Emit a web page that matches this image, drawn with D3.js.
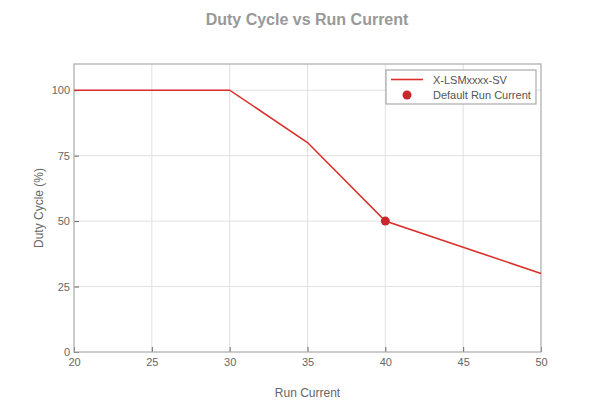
<!DOCTYPE html>
<html>
<head>
<meta charset="utf-8">
<script src="https://cdn.jsdelivr.net/npm/d3@7"></script>
<style>
  body { margin: 0; background: #fff; }
  text { font-family: "Liberation Sans", Arial, sans-serif; }
</style>
</head>
<body>
<div id="chart"></div>
<script>
const runCurrent = [20, 30, 35, 40, 45, 50];
const dutyCycle = [100, 100, 80, 50, 40, 30];
const defaultCurrent = [40];
const defaultDuty = [50];
const xTicks = [20, 25, 30, 35, 40, 45, 50];
const yTicks = [0, 25, 50, 75, 100];

const width = 600, height = 416;
const margin = {top: 64, right: 59, bottom: 64, left: 74};
const innerW = width - margin.left - margin.right;
const innerH = height - margin.top - margin.bottom;

const svg = d3.select("#chart").append("svg")
    .attr("width", width)
    .attr("height", height);

// title
svg.append("text")
    .attr("x", 307).attr("y", 25)
    .attr("text-anchor", "middle")
    .attr("font-size", 16).attr("font-weight", "bold")
    .attr("fill", "#999")
    .text("Duty Cycle vs Run Current");

const g = svg.append("g")
    .attr("transform", `translate(${margin.left},${margin.top})`);

const x = d3.scaleLinear().domain([20, 50]).range([0, innerW]);
const y = d3.scaleLinear().domain([0, 110]).range([innerH, 0]);

// grid
g.selectAll(".vgrid").data(xTicks.slice(1, -1)).enter().append("line")
    .attr("x1", d => x(d)).attr("x2", d => x(d))
    .attr("y1", 0).attr("y2", innerH)
    .attr("stroke", "#e0e0e0").attr("stroke-width", 1);
g.selectAll(".hgrid").data(yTicks.slice(1)).enter().append("line")
    .attr("y1", d => y(d)).attr("y2", d => y(d))
    .attr("x1", 0).attr("x2", innerW)
    .attr("stroke", "#e0e0e0").attr("stroke-width", 1);

// axes with ticks pointing inward
const xAxis = g.append("g")
    .attr("transform", `translate(0,${innerH})`)
    .call(d3.axisBottom(x).tickValues(xTicks).tickSize(-5).tickPadding(6));
const yAxis = g.append("g")
    .call(d3.axisLeft(y).tickValues(yTicks).tickSize(-5).tickPadding(4));
[xAxis, yAxis].forEach(a => {
    a.select(".domain").remove();
    a.selectAll("line").attr("stroke", "#666");
    a.selectAll("text").attr("fill", "#666").attr("font-size", 11)
        .attr("font-family", "Liberation Sans, Arial, sans-serif");
});

// frame
g.append("rect")
    .attr("width", innerW).attr("height", innerH)
    .attr("fill", "none").attr("stroke", "#aaa").attr("stroke-width", 1.2);

// line
const pts = runCurrent.map((d, i) => [d, dutyCycle[i]]);
g.append("path")
    .datum(pts)
    .attr("fill", "none")
    .attr("stroke", "#d9302c")
    .attr("stroke-width", 1.6)
    .attr("d", d3.line().x(d => x(d[0])).y(d => y(d[1])));

// default point
g.selectAll(".pt").data(defaultCurrent).enter().append("circle")
    .attr("cx", d => x(d)).attr("cy", (d, i) => y(defaultDuty[i]))
    .attr("r", 4.5)
    .attr("fill", "#c8282c");

// axis labels
svg.append("text")
    .attr("x", margin.left + innerW / 2).attr("y", 397)
    .attr("text-anchor", "middle").attr("font-size", 12).attr("fill", "#666")
    .text("Run Current");
svg.append("text")
    .attr("transform", `translate(43,${margin.top + y(55)}) rotate(-90)`)
    .attr("text-anchor", "middle").attr("font-size", 12).attr("fill", "#666")
    .text("Duty Cycle (%)");

// legend
const lg = svg.append("g").attr("transform", "translate(386,70)");
lg.append("rect")
    .attr("width", 150).attr("height", 34)
    .attr("fill", "#fff").attr("stroke", "#999").attr("stroke-width", 1);
lg.append("line")
    .attr("x1", 5).attr("x2", 37).attr("y1", 9.5).attr("y2", 9.5)
    .attr("stroke", "#d9302c").attr("stroke-width", 1.6);
lg.append("circle")
    .attr("cx", 21).attr("cy", 25).attr("r", 4.5).attr("fill", "#c8282c");
lg.append("text")
    .attr("x", 47).attr("y", 13.5).attr("font-size", 11).attr("fill", "#555")
    .text("X-LSMxxxx-SV");
lg.append("text")
    .attr("x", 47).attr("y", 29).attr("font-size", 11).attr("fill", "#555")
    .text("Default Run Current");
</script>
</body>
</html>
